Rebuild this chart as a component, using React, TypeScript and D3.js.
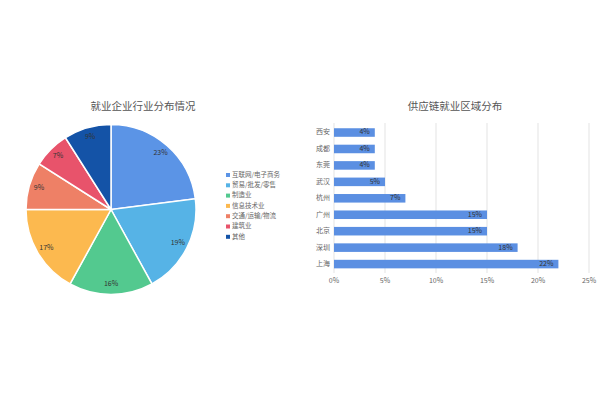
import React from "react";
import * as d3 from "d3";

const pieCategories = ["互联网/电子商务", "贸易/批发/零售", "制造业", "信息技术业", "交通/运输/物流", "建筑业", "其他"];
const pieValues = [23, 19, 16, 17, 9, 7, 9];
const pieColors = ["#5b94e6", "#56b3e6", "#53c98f", "#fcb94f", "#ee8066", "#e8536b", "#1453a7"];

const barCategories = ["西安", "成都", "东莞", "武汉", "杭州", "广州", "北京", "深圳", "上海"];
const barValues = [4, 4, 4, 5, 7, 15, 15, 18, 22];
const xTicks = [0, 5, 10, 15, 20, 25];

const FONT = "'Noto Sans CJK SC', 'Noto Sans', sans-serif";

export default function App() {
  const cx = 111, cy = 209.5, r = 85;
  const pie = d3.pie<number>().sort(null).value((d) => d)(pieValues);
  const arc = d3.arc<d3.PieArcDatum<number>>().innerRadius(0).outerRadius(r);
  const labelArc = d3.arc<d3.PieArcDatum<number>>().innerRadius(75).outerRadius(75);

  const x = d3.scaleLinear().domain([0, 25]).range([334, 589]);
  const y = d3.scaleBand<string>().domain(barCategories).range([124.3, 272.3]).paddingInner(0.48).paddingOuter(0.24);

  return (
    <svg width={600} height={400} style={{ position: "absolute", left: 0, top: 0, background: "#fff" }} fontFamily={FONT}>
      <rect width={600} height={400} fill="#fff" />
      {/* Pie chart */}
      <text x={143} y={107} textAnchor="middle" dominantBaseline="middle" fontSize={10.5} fill="#555">就业企业行业分布情况</text>
      <g transform={`translate(${cx},${cy})`}>
        {pie.map((d, i) => (
          <path key={i} d={arc(d) || ""} fill={pieColors[i]} stroke="#fff" strokeWidth={1.5} />
        ))}
        {pie.map((d, i) => {
          const [lx, ly] = labelArc.centroid(d);
          return (
            <text key={i} x={lx} y={ly} textAnchor="middle" dominantBaseline="middle" fontSize={7} fill="#333">
              {pieValues[i]}%
            </text>
          );
        })}
      </g>
      <g>
        {pieCategories.map((c, i) => (
          <g key={c} transform={`translate(226,${175 + i * 10.3})`}>
            <rect x={0} y={-2} width={4} height={4} fill={pieColors[i]} />
            <text x={6} y={0} dominantBaseline="middle" fontSize={6.5} fill="#666">{c}</text>
          </g>
        ))}
      </g>

      {/* Bar chart */}
      <text x={455} y={107.5} textAnchor="middle" dominantBaseline="middle" fontSize={10.5} fill="#555">供应链就业区域分布</text>
      {xTicks.map((t) => (
        <g key={t}>
          <line x1={x(t)} x2={x(t)} y1={123} y2={273} stroke="#e3e3e3" strokeWidth={1} />
          <text x={x(t)} y={281} textAnchor="middle" dominantBaseline="middle" fontSize={7} fill="#666">{t}%</text>
        </g>
      ))}
      {barCategories.map((c, i) => {
        const yy = y(c) || 0;
        const bw = y.bandwidth();
        return (
          <g key={c}>
            <text x={330} y={yy + bw / 2} textAnchor="end" dominantBaseline="middle" fontSize={7} fill="#666">{c}</text>
            <rect x={x(0)} y={yy} width={x(barValues[i]) - x(0)} height={bw} fill="#5b8fe2" />
            <text x={x(barValues[i]) - 5} y={yy + bw / 2} textAnchor="end" dominantBaseline="middle" fontSize={7} fill="#333">{barValues[i]}%</text>
          </g>
        );
      })}
    </svg>
  );
}
